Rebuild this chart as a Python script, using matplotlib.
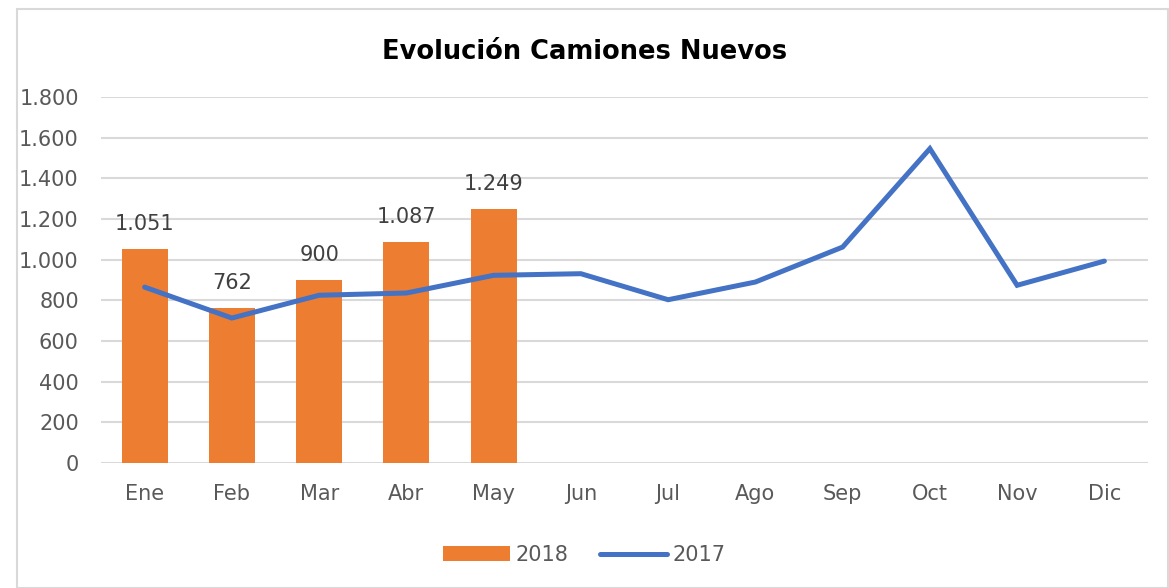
import matplotlib.pyplot as plt

months = ['Ene', 'Feb', 'Mar', 'Abr', 'May', 'Jun', 'Jul', 'Ago', 'Sep', 'Oct', 'Nov', 'Dic']
sales_2018 = [1051, 762, 900, 1087, 1249]
sales_2017 = [865, 713, 825, 836, 923, 931, 803, 890, 1062, 1546, 874, 993]
y_ticks = [0, 200, 400, 600, 800, 1000, 1200, 1400, 1600, 1800]


def fmt(v):
    # miles con punto, como en la hoja original
    return f'{v:,}'.replace(',', '.')


plt.rcParams['font.family'] = ['DejaVu Sans']
gray = '#595959'

fig = plt.figure(figsize=(11.69, 5.88), dpi=100)
ax = fig.add_axes([101 / 1169, 1 - 463 / 588, (1148 - 101) / 1169, (463 - 97) / 588])

# marco del grafico
fig.patches.append(plt.Rectangle((17 / 1169, 0), 1 - 17 / 1169 - 0.001, 1 - 9 / 588,
                                 transform=fig.transFigure, fill=False,
                                 edgecolor='#D9D9D9', linewidth=1.5))

x = list(range(len(months)))
bars = ax.bar(x[:len(sales_2018)], sales_2018, width=0.53, color='#ED7D31', label='2018', zorder=2)
line, = ax.plot(x, sales_2017, color='#4472C4', linewidth=3.6, solid_capstyle='round',
                solid_joinstyle='miter', label='2017', zorder=3)

for xi, v in zip(x, sales_2018):
    ax.annotate(fmt(v), (xi, v), xytext=(0, 11), textcoords='offset points',
                ha='center', va='bottom', fontsize=15, color='#404040')

ax.set_xlim(-0.5, len(months) - 0.5)
ax.set_ylim(0, 1800)
ax.set_yticks(y_ticks)
ax.set_yticklabels([fmt(t) for t in y_ticks])
ax.set_xticks(x)
ax.set_xticklabels(months)
ax.tick_params(axis='both', length=0, labelsize=15, labelcolor=gray)
ax.tick_params(axis='x', pad=15)
ax.tick_params(axis='y', pad=16)

ax.grid(axis='y', color='#D9D9D9', linewidth=1.5, zorder=0)
ax.set_axisbelow(True)
for s in ax.spines.values():
    s.set_visible(False)

fig.text(0.5, 1 - 52 / 588, 'Evolución Camiones Nuevos', ha='center', va='center',
         fontsize=18.5, fontweight='bold', color='black')

fig.legend([bars, line], ['2018', '2017'], loc='center', bbox_to_anchor=(0.5, 1 - 555 / 588),
           ncol=2, frameon=False, fontsize=15, labelcolor=gray, handlelength=3.2,
           handletextpad=0.3, columnspacing=1.5)

fig.savefig('out.png', dpi=100)
